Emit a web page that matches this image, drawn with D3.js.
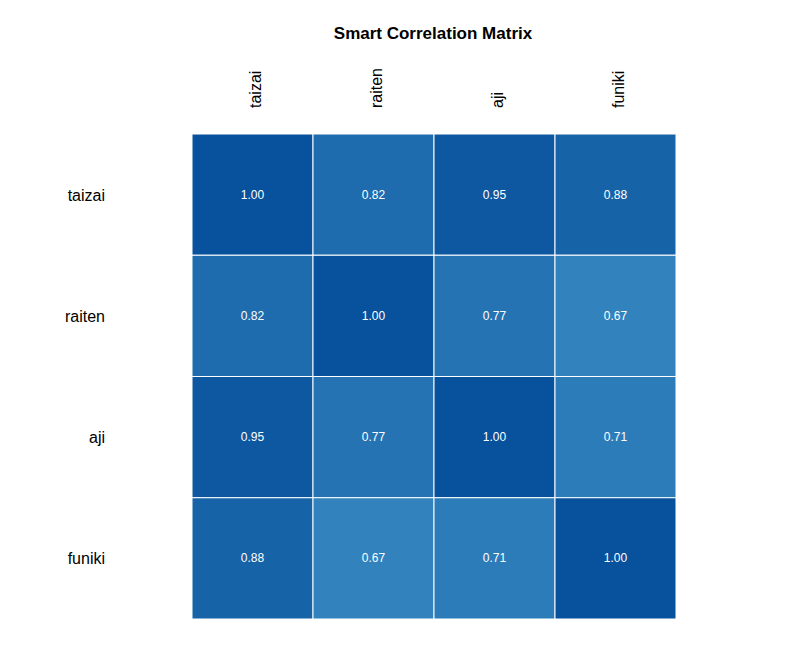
<!DOCTYPE html>
<html><head><meta charset="utf-8">
<script src="https://cdn.jsdelivr.net/npm/d3@7"></script>
<style>body{margin:0;background:#fff}svg{font-family:"Liberation Sans",Arial,sans-serif}</style>
</head><body><svg id="chart" width="792" height="658"></svg>
<script>
var vars = ["taizai", "raiten", "aji", "funiki"];
var corr = [
    [1.00, 0.82, 0.95, 0.88],
    [0.82, 1.00, 0.77, 0.67],
    [0.95, 0.77, 1.00, 0.71],
    [0.88, 0.67, 0.71, 1.00]
];

var svg = d3.select("#chart");
var x = d3.scaleBand().domain(vars).range([192, 676]);
var y = d3.scaleBand().domain(vars).range([134, 619]);
var color = d3.scaleLinear().domain([0.67, 1.0]).range(["#3182bd", "#08519c"]);

svg.append("text").attr("x", 433).attr("y", 39).attr("text-anchor", "middle")
    .attr("font-weight", "bold").attr("font-size", 17).text("Smart Correlation Matrix");

var cells = [];
corr.forEach(function (row, i) {
    row.forEach(function (v, j) { cells.push({r: vars[i], c: vars[j], v: v}); });
});

svg.selectAll("rect.cell").data(cells).enter().append("rect")
    .attr("x", function (d) { return x(d.c); })
    .attr("y", function (d) { return y(d.r); })
    .attr("width", x.bandwidth()).attr("height", y.bandwidth())
    .attr("fill", function (d) { return color(d.v); })
    .attr("stroke", "#fff").attr("stroke-width", 1);

svg.selectAll("text.val").data(cells).enter().append("text")
    .attr("x", function (d) { return x(d.c) + x.bandwidth() / 2; })
    .attr("y", function (d) { return y(d.r) + y.bandwidth() / 2 + 4; })
    .attr("text-anchor", "middle").attr("font-size", 12).attr("fill", "#fff")
    .text(function (d) { return d.v.toFixed(2); });

svg.selectAll("text.row").data(vars).enter().append("text")
    .attr("x", 105).attr("y", function (d) { return y(d) + y.bandwidth() / 2 + 6; })
    .attr("text-anchor", "end").attr("font-size", 16).text(function (d) { return d; });

svg.selectAll("text.col").data(vars).enter().append("text")
    .attr("transform", function (d) {
        return "translate(" + (x(d) + x.bandwidth() / 2 + 8) + ",108) rotate(-90)";
    })
    .attr("text-anchor", "start").attr("font-size", 16).text(function (d) { return d; });
</script></body></html>
